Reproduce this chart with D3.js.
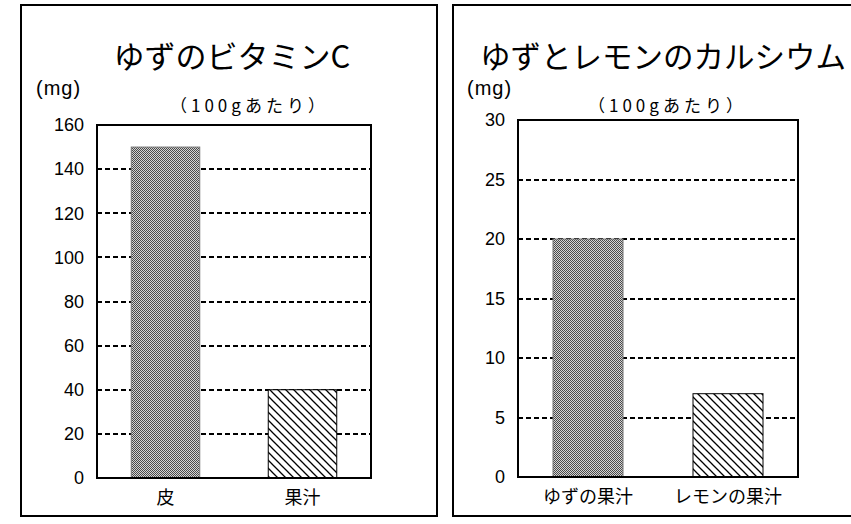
<!DOCTYPE html>
<html>
<head>
<meta charset="utf-8">
<script src="https://cdn.jsdelivr.net/npm/d3@7"></script>
<style>
  body { margin: 0; background: #fff; }
  svg { display: block; }
  .num { font-family: "Liberation Sans", Arial, sans-serif; }
  .jp { font-family: "Noto Sans CJK JP", sans-serif; }
</style>
</head>
<body>
<svg id="chart" width="851" height="524"></svg>
<script>
// left chart: vitamin C
const vitTitle = "ゆずのビタミンC";
const vitCategories = ["皮", "果汁"];
const vitValues = [150, 40];
const vitTicks = [0, 20, 40, 60, 80, 100, 120, 140, 160];

// right chart: calcium
const calTitle = "ゆずとレモンのカルシウム";
const calCategories = ["ゆずの果汁", "レモンの果汁"];
const calValues = [20, 7];
const calTicks = [0, 5, 10, 15, 20, 25, 30];

const unitLabel = "(mg)";
const subTitle = "（100gあたり）";
const barFills = ["url(#dots)", "url(#hatch)"];

const svg = d3.select("#chart");
const defs = svg.append("defs");

const dots = defs.append("pattern")
  .attr("id", "dots")
  .attr("patternUnits", "userSpaceOnUse")
  .attr("width", 2).attr("height", 2);
dots.append("rect").attr("width", 2).attr("height", 2).attr("fill", "#d4d4d4");
dots.append("rect").attr("width", 1).attr("height", 1).attr("fill", "#4a4a4a");
dots.append("rect").attr("x", 1).attr("y", 1).attr("width", 1).attr("height", 1).attr("fill", "#4a4a4a");

const hatch = defs.append("pattern")
  .attr("id", "hatch")
  .attr("patternUnits", "userSpaceOnUse")
  .attr("width", 8).attr("height", 8);
hatch.append("rect").attr("width", 8).attr("height", 8).attr("fill", "#fff");
hatch.append("path")
  .attr("d", "M-2,-2L10,10M-2,6L2,10M6,-2L10,2")
  .attr("stroke", "#000")
  .attr("stroke-width", 1.3);

function drawPanel(cfg) {
  const g = svg.append("g");

  // outer frame
  g.append("rect")
    .attr("x", cfg.frame[0]).attr("y", cfg.frame[1])
    .attr("width", cfg.frame[2]).attr("height", cfg.frame[3])
    .attr("fill", "#fff")
    .attr("stroke", "#000")
    .attr("stroke-width", 2);

  const x = d3.scaleBand()
    .domain(cfg.categories)
    .range([cfg.left, cfg.right])
    .paddingInner(0.5)
    .paddingOuter(0.25);

  const y = d3.scaleLinear()
    .domain([0, d3.max(cfg.ticks)])
    .range([cfg.bottom, cfg.top]);

  // dashed grid lines
  g.append("g")
    .selectAll("line")
    .data(cfg.ticks.slice(1, -1))
    .join("line")
    .attr("x1", cfg.left).attr("x2", cfg.right)
    .attr("y1", d => Math.round(y(d))).attr("y2", d => Math.round(y(d)))
    .attr("stroke", "#000")
    .attr("stroke-width", 2)
    .attr("stroke-dasharray", "5,3")
    .attr("shape-rendering", "crispEdges");

  g.append("g")
    .selectAll("rect")
    .data(cfg.values)
    .join("rect")
    .attr("x", (d, i) => x(cfg.categories[i]))
    .attr("y", d => y(d))
    .attr("width", x.bandwidth())
    .attr("height", d => y(0) - y(d))
    .attr("fill", (d, i) => barFills[i])
    .attr("stroke", (d, i) => i === 0 ? "#777" : "#000")
    .attr("stroke-width", 1);

  // plot box
  g.append("rect")
    .attr("x", cfg.left).attr("y", cfg.top)
    .attr("width", cfg.right - cfg.left)
    .attr("height", cfg.bottom - cfg.top)
    .attr("fill", "none")
    .attr("stroke", "#000")
    .attr("stroke-width", 2)
    .attr("shape-rendering", "crispEdges");

  const yAxis = g.append("g")
    .attr("transform", `translate(${cfg.left},0)`)
    .call(d3.axisLeft(y).tickValues(cfg.ticks).tickSize(0).tickPadding(13));
  yAxis.select(".domain").remove();
  yAxis.selectAll("text")
    .attr("class", "num")
    .style("font-size", "18px")
    .attr("fill", "#000");

  const xAxis = g.append("g")
    .attr("transform", `translate(0,${cfg.bottom})`)
    .call(d3.axisBottom(x).tickSize(0).tickPadding(13));
  xAxis.select(".domain").remove();
  xAxis.selectAll("text")
    .attr("class", "jp")
    .style("font-size", "18px")
    .attr("fill", "#000");

  g.append("text")
    .attr("class", "jp")
    .attr("x", cfg.titleX).attr("y", 68)
    .attr("text-anchor", cfg.titleAnchor)
    .style("font-size", cfg.titleSize)
    .text(cfg.title);

  g.append("text")
    .attr("class", "num")
    .attr("x", cfg.unitX).attr("y", 95)
    .style("font-size", "20px")
    .style("letter-spacing", "1px")
    .text(unitLabel);

  g.append("text")
    .attr("class", "jp")
    .attr("x", cfg.subX).attr("y", 112)
    .style("font-size", "17px")
    .style("letter-spacing", "4px")
    .text(subTitle);
}

drawPanel({
  frame: [21, 5, 416, 511],
  left: 97, right: 371, top: 125, bottom: 478,
  categories: vitCategories, values: vitValues, ticks: vitTicks,
  title: vitTitle, titleX: 232, titleAnchor: "middle", titleSize: "31px",
  unitX: 36, subX: 170
});

drawPanel({
  frame: [453, 5, 430, 511],
  left: 518, right: 798, top: 120, bottom: 477,
  categories: calCategories, values: calValues, ticks: calTicks,
  title: calTitle, titleX: 480, titleAnchor: "start", titleSize: "30.5px",
  unitX: 467, subX: 588
});
</script>
</body>
</html>
